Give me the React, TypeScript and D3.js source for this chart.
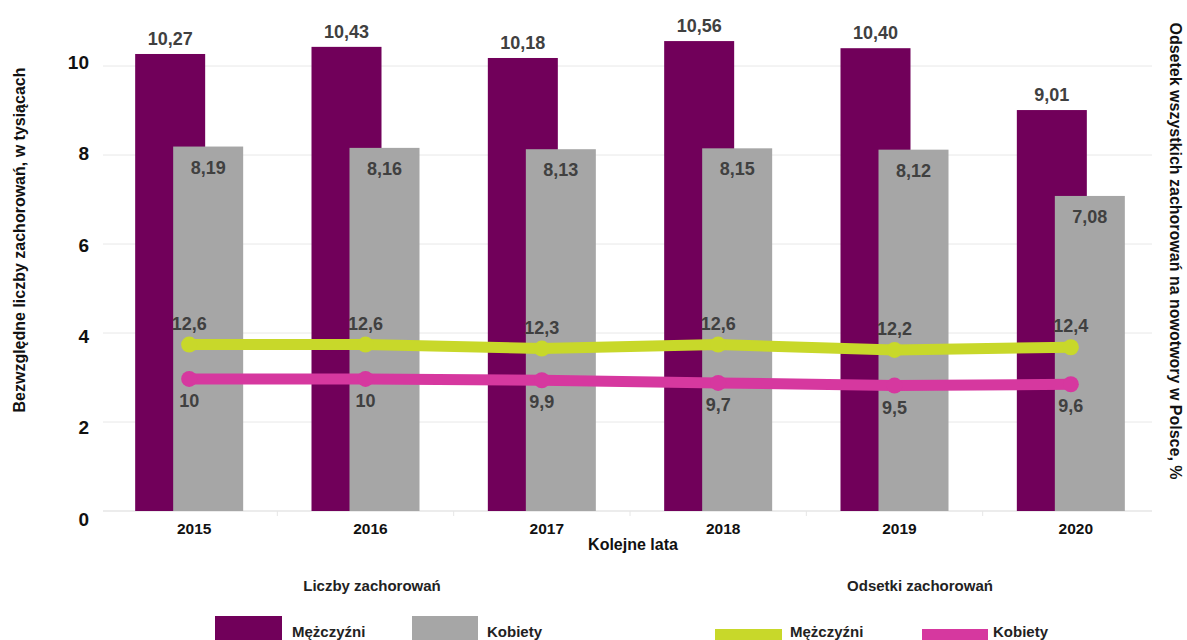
import React from 'react';
import * as d3 from 'd3';

const years = ['2015', '2016', '2017', '2018', '2019', '2020'];
const menCounts = [10.27, 10.43, 10.18, 10.56, 10.4, 9.01];
const womenCounts = [8.19, 8.16, 8.13, 8.15, 8.12, 7.08];
const menPct = [12.6, 12.6, 12.3, 12.6, 12.2, 12.4];
const womenPct = [10, 10, 9.9, 9.7, 9.5, 9.6];
const leftTicks = [0, 2, 4, 6, 8, 10];

const W = 1187;
const H = 640;
const C_MEN = '#71005a';
const C_WOMEN = '#a6a6a6';
const C_GREEN = '#c8d82a';
const C_PINK = '#d6389f';
const C_LABEL = '#404040';
const FONT = '"Liberation Sans", Arial, sans-serif';

const fmt2 = (v: number) => d3.format('.2f')(v).replace('.', ',');
const fmtP = (v: number) => String(v).replace('.', ',');

export default function App() {
  const x = d3.scaleBand<string>().domain(years).range([101, 1159]);
  const y = d3.scaleLinear().domain([0, 10]).range([511, 66]);
  const yLab = d3.scaleLinear().domain([0, 10]).range([519, 62.5]);
  const yR = d3.scaleLinear().domain([0, 33.7]).range([511, 66]);
  const cx = (yr: string) => (x(yr) as number) + x.bandwidth() / 2;
  const bw = 70;

  const line = d3
    .line<number>()
    .x((_, i) => cx(years[i]))
    .y((d) => yR(d));

  return (
    <svg
      width={W}
      height={H}
      style={{ position: 'absolute', left: 0, top: 0, background: '#fff' }}
      fontFamily={FONT}
    >
      {/* gridlines */}
      {leftTicks.map((t) => (
        <line key={t} x1={103} x2={1152} y1={y(t)} y2={y(t)} stroke={t === 0 ? '#d9d9d9' : '#e8e8e8'} strokeWidth={1} />
      ))}
      {/* band ticks */}
      {years.slice(0, -1).map((yr) => (
        <line key={yr} x1={(x(yr) as number) + x.step()} x2={(x(yr) as number) + x.step()} y1={511} y2={516} stroke="#e6e6e6" />
      ))}
      {/* left tick labels */}
      {leftTicks.map((t) => (
        <text key={t} x={89} y={yLab(t)} dy="0.35em" textAnchor="end" fontSize={19} fontWeight="bold" fill="#111">
          {t}
        </text>
      ))}
      {/* bars */}
      {years.map((yr, i) => (
        <g key={yr}>
          <rect x={cx(yr) - 54} y={y(menCounts[i])} width={bw} height={y(0) - y(menCounts[i])} fill={C_MEN} />
          <rect x={cx(yr) - 16} y={y(womenCounts[i])} width={bw} height={y(0) - y(womenCounts[i])} fill={C_WOMEN} />
        </g>
      ))}
      {/* bar labels */}
      {years.map((yr, i) => (
        <g key={yr} fontSize={18} fontWeight="bold" fill={C_LABEL} textAnchor="middle">
          <text x={cx(yr) - 19} y={y(menCounts[i]) - 9}>{fmt2(menCounts[i])}</text>
          <text x={cx(yr) + 19} y={y(womenCounts[i]) + 27}>{fmt2(womenCounts[i])}</text>
        </g>
      ))}
      {/* lines */}
      <path d={line(menPct) || ''} fill="none" stroke={C_GREEN} strokeWidth={11} />
      <path d={line(womenPct) || ''} fill="none" stroke={C_PINK} strokeWidth={11} />
      {years.map((yr, i) => (
        <g key={yr}>
          <circle cx={cx(yr)} cy={yR(menPct[i])} r={8} fill={C_GREEN} />
          <circle cx={cx(yr)} cy={yR(womenPct[i])} r={8} fill={C_PINK} />
          <text x={cx(yr)} y={yR(menPct[i]) - 15} textAnchor="middle" fontSize={18} fontWeight="bold" fill={C_LABEL}>
            {fmtP(menPct[i])}
          </text>
          <text x={cx(yr)} y={yR(womenPct[i]) + 28} textAnchor="middle" fontSize={18} fontWeight="bold" fill={C_LABEL}>
            {fmtP(womenPct[i])}
          </text>
        </g>
      ))}
      {/* year labels */}
      {years.map((yr) => (
        <text key={yr} x={cx(yr) + 5} y={534} textAnchor="middle" fontSize={15.5} fontWeight="bold" fill="#111">
          {yr}
        </text>
      ))}
      <text x={633} y={550} textAnchor="middle" fontSize={16} fontWeight="bold" fill="#111">
        Kolejne lata
      </text>
      {/* axis titles */}
      <text
        transform={`translate(25,240) rotate(-90)`}
        textAnchor="middle"
        fontSize={16}
        fontWeight="bold"
        fill="#111"
      >
        Bezwzględne liczby zachorowań, w tysiącach
      </text>
      <text
        transform={`translate(1170,251) rotate(90)`}
        textAnchor="middle"
        fontSize={16}
        fontWeight="bold"
        fill="#111"
      >
        Odsetek wszystkich zachorowań na nowotwory w Polsce, %
      </text>
      {/* legends */}
      <text x={372} y={591} textAnchor="middle" fontSize={15} fontWeight="bold" fill="#222">
        Liczby zachorowań
      </text>
      <rect x={215} y={616} width={67} height={30} fill={C_MEN} />
      <text x={292} y={637} fontSize={15} fontWeight="bold" fill="#222">Mężczyźni</text>
      <rect x={412} y={616} width={66} height={30} fill={C_WOMEN} />
      <text x={487} y={637} fontSize={15} fontWeight="bold" fill="#222">Kobiety</text>

      <text x={920} y={591} textAnchor="middle" fontSize={15} fontWeight="bold" fill="#222">
        Odsetki zachorowań
      </text>
      <rect x={715} y={629} width={67} height={12} fill={C_GREEN} />
      <text x={790} y={637} fontSize={15} fontWeight="bold" fill="#222">Mężczyźni</text>
      <rect x={922} y={629} width={66} height={12} fill={C_PINK} />
      <text x={993} y={637} fontSize={15} fontWeight="bold" fill="#222">Kobiety</text>
    </svg>
  );
}
